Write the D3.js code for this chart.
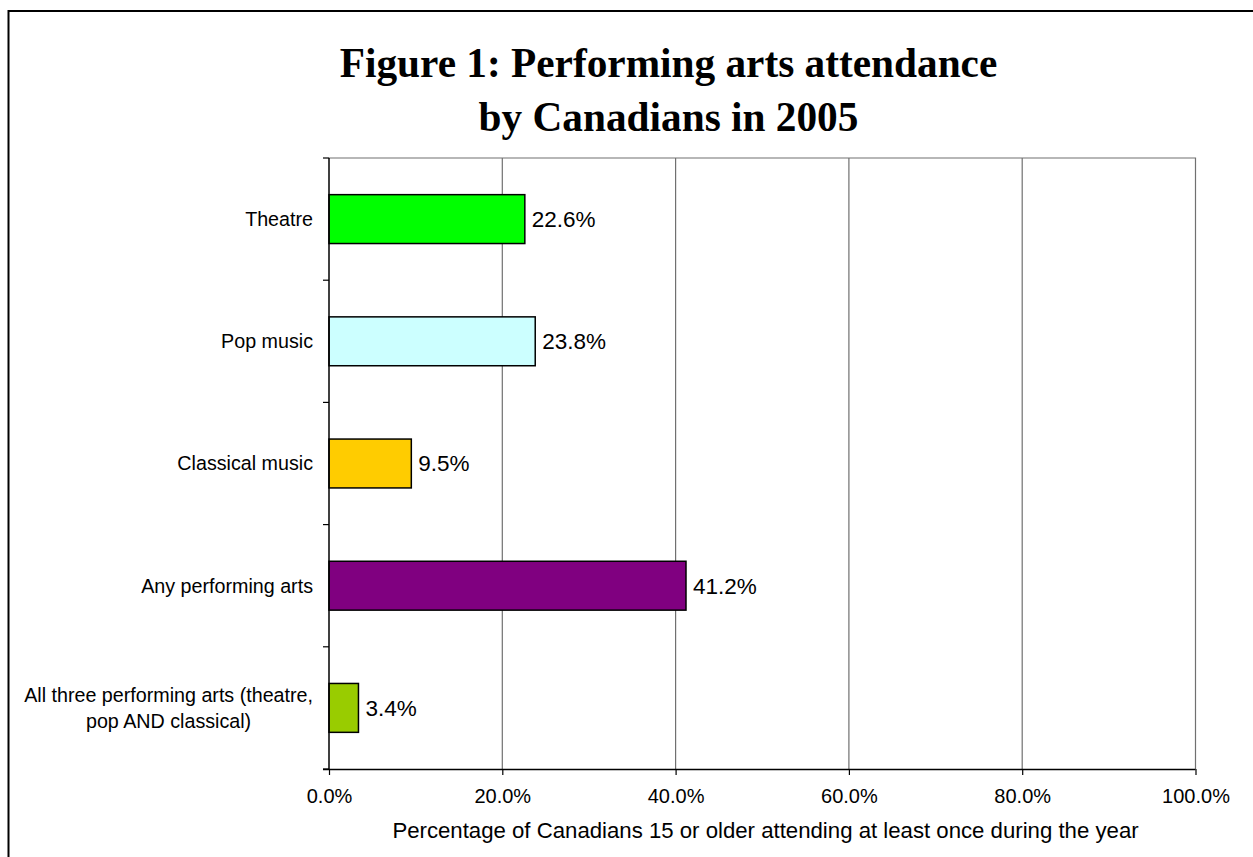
<!DOCTYPE html>
<html>
<head>
<meta charset="utf-8">
<script src="https://cdn.jsdelivr.net/npm/d3@7"></script>
<style>
  html, body { margin: 0; padding: 0; background: #fff; }
  svg { display: block; }
</style>
</head>
<body>
<svg id="chart" width="1253" height="857"></svg>
<script>
const categories = ["Theatre", "Pop music", "Classical music", "Any performing arts", "All three performing arts (theatre,|pop AND classical)"];
const values = [22.6, 23.8, 9.5, 41.2, 3.4];
const barColors = ["#00FF00", "#CCFFFF", "#FFCC00", "#800080", "#99CC00"];
const xTicks = [0, 20, 40, 60, 80, 100];
const titleLines = ["Figure 1: Performing arts attendance", "by Canadians in 2005"];
const xAxisTitle = "Percentage of Canadians 15 or older attending at least once during the year";

const svg = d3.select("#chart");
const plot = { left: 329, right: 1195.5, top: 158, bottom: 769 };

// outer frame (extends beyond the viewport on right and bottom)
svg.append("rect")
  .attr("x", 8.5).attr("y", 11).attr("width", 1300).attr("height", 900)
  .attr("fill", "none").attr("stroke", "#000").attr("stroke-width", 2);

// title
svg.append("g").selectAll("text").data(titleLines).join("text")
  .attr("x", 668.5)
  .attr("y", (d, i) => 77 + i * 54)
  .attr("text-anchor", "middle")
  .attr("font-family", "'Book Antiqua', 'Palatino Linotype', Palatino, 'Liberation Serif', serif")
  .attr("font-weight", "bold")
  .attr("font-size", 41.3)
  .attr("fill", "#000")
  .text(d => d);

const x = d3.scaleLinear().domain([0, 100]).range([plot.left, plot.right]);
const yOuter = d3.scaleBand().domain(categories).range([plot.top, plot.bottom]).padding(0);
const y = d3.scaleBand().domain(categories).range([plot.top, plot.bottom])
  .paddingInner(0.6).paddingOuter(0.3);

// gridlines
svg.append("g").selectAll("line").data(xTicks.filter(t => t > 0 && t < 100)).join("line")
  .attr("x1", d => x(d)).attr("x2", d => x(d))
  .attr("y1", plot.top).attr("y2", plot.bottom)
  .attr("stroke", "#707070").attr("stroke-width", 1.2);

// plot area top and right border
svg.append("path")
  .attr("d", `M${plot.left},${plot.top}H${plot.right}V${plot.bottom}`)
  .attr("fill", "none").attr("stroke", "#707070").attr("stroke-width", 1.2);

// bars
const data = categories.map((c, i) => ({ c, v: values[i], color: barColors[i] }));
svg.append("g").selectAll("rect").data(data).join("rect")
  .attr("x", x(0))
  .attr("y", d => y(d.c))
  .attr("width", d => x(d.v) - x(0))
  .attr("height", y.bandwidth())
  .attr("fill", d => d.color)
  .attr("stroke", "#000").attr("stroke-width", 1.5);

// value labels
svg.append("g").selectAll("text").data(data).join("text")
  .attr("x", d => x(d.v) + 7)
  .attr("y", d => y(d.c) + y.bandwidth() / 2)
  .attr("dy", "0.35em")
  .attr("font-family", "Arial, 'Liberation Sans', sans-serif")
  .attr("font-size", 22.5)
  .attr("fill", "#000")
  .text(d => d.v.toFixed(1) + "%");

// x axis
const xAxis = d3.axisBottom(x).tickValues(xTicks).tickSize(6).tickPadding(14)
  .tickFormat(d => d.toFixed(1) + "%");
const gx = svg.append("g").attr("transform", `translate(0,${plot.bottom})`).call(xAxis);
gx.select(".domain").attr("stroke", "#000").attr("stroke-width", 1.5)
  .attr("d", `M${plot.left - 6},0.5H${plot.right}`);
gx.selectAll(".tick line").attr("stroke", "#000").attr("stroke-width", 1.2);
gx.selectAll(".tick text")
  .attr("font-family", "Arial, 'Liberation Sans', sans-serif")
  .attr("font-size", 20).attr("fill", "#000");

// y axis (category ticks at band boundaries)
const boundaries = categories.map(c => yOuter(c)).concat([plot.bottom]);
const gy = svg.append("g");
gy.append("line")
  .attr("x1", plot.left).attr("x2", plot.left)
  .attr("y1", plot.top).attr("y2", plot.bottom)
  .attr("stroke", "#000").attr("stroke-width", 1.5);
gy.selectAll("line.tk").data(boundaries).join("line").attr("class", "tk")
  .attr("x1", plot.left - 6).attr("x2", plot.left)
  .attr("y1", d => d).attr("y2", d => d)
  .attr("stroke", "#000").attr("stroke-width", 1.2);

// category labels
const lbl = gy.selectAll("text").data(categories).join("text")
  .attr("text-anchor", "middle")
  .attr("font-family", "Arial, 'Liberation Sans', sans-serif")
  .attr("font-size", 19.7)
  .attr("fill", "#000");
lbl.each(function (d) {
  const lines = d.split("|");
  const t = d3.select(this);
  const cy = yOuter(d) + yOuter.bandwidth() / 2;
  const lh = 26.5;
  lines.forEach((ln, i) => {
    t.append("tspan")
      .attr("x", 0)
      .attr("y", cy + (i - (lines.length - 1) / 2) * lh)
      .attr("dy", "0.35em")
      .text(ln);
  });
});
// right-align block, center lines within multi-line block
lbl.each(function () {
  const tsp = d3.select(this).selectAll("tspan");
  let w = 0;
  tsp.each(function () { w = Math.max(w, this.getComputedTextLength()); });
  tsp.attr("x", 313 - w / 2);
});

// x axis title
svg.append("text")
  .attr("x", 765.5)
  .attr("y", 838)
  .attr("text-anchor", "middle")
  .attr("font-family", "Arial, 'Liberation Sans', sans-serif")
  .attr("font-size", 22.2)
  .attr("fill", "#000")
  .text(xAxisTitle);
</script>
</body>
</html>
